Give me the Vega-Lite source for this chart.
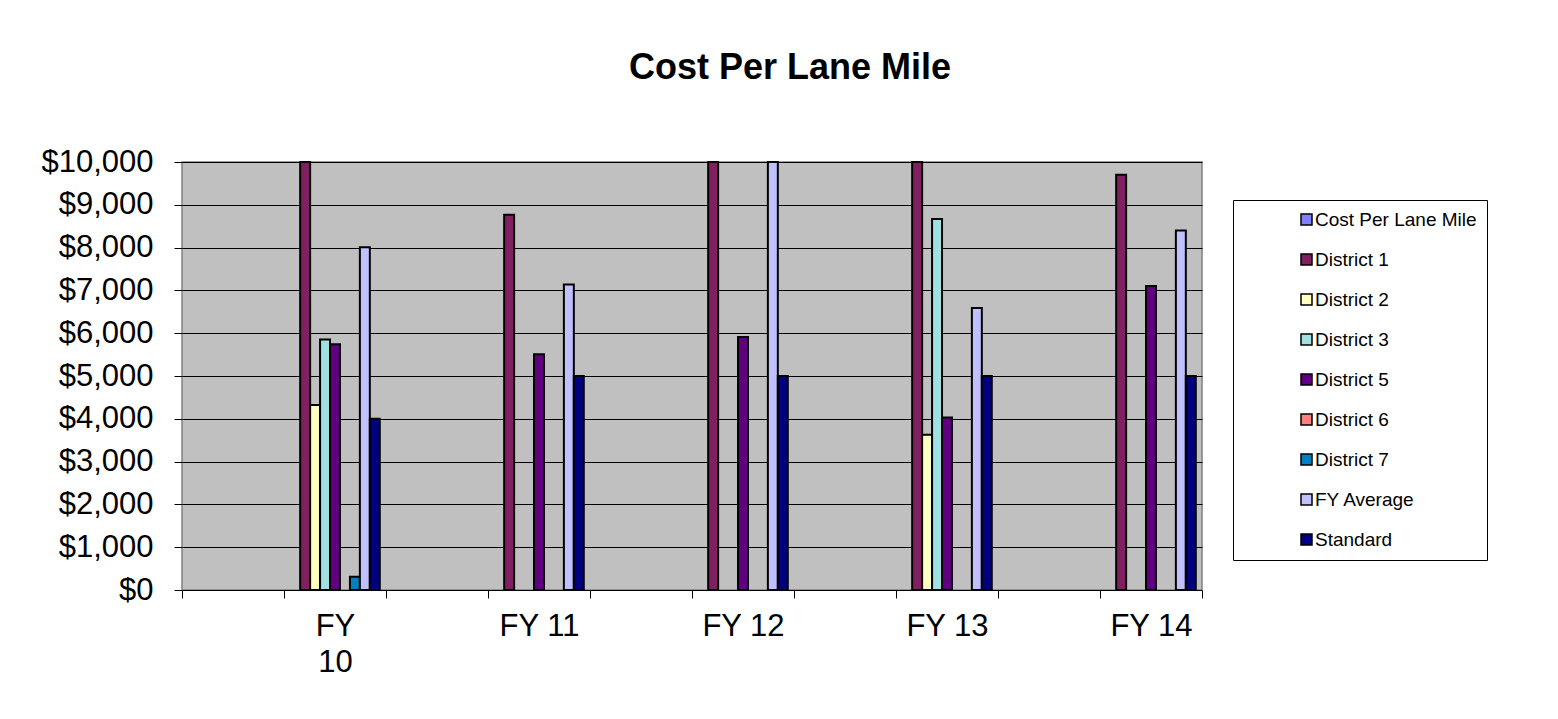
{
  "$schema": "https://vega.github.io/schema/vega-lite/v6.json",
  "width": 1020,
  "height": 428,
  "autosize": {"type": "none"},
  "padding": {"left": 182, "top": 162, "right": 356, "bottom": 129},
  "background": "white",
  "title": {
    "text": "Cost Per Lane Mile",
    "font": "Liberation Sans",
    "fontSize": 36,
    "fontWeight": "bold",
    "color": "black",
    "anchor": "middle",
    "dx": 98,
    "offset": 59
  },
  "data": {
    "values": [
      {"year": "FY 10", "series": "District 1", "cost": 10000},
      {"year": "FY 10", "series": "District 2", "cost": 4320},
      {"year": "FY 10", "series": "District 3", "cost": 5850},
      {"year": "FY 10", "series": "District 5", "cost": 5740},
      {"year": "FY 10", "series": "District 7", "cost": 310},
      {"year": "FY 10", "series": "FY Average", "cost": 8010},
      {"year": "FY 10", "series": "Standard", "cost": 4000},
      {"year": "FY 11", "series": "District 1", "cost": 8770},
      {"year": "FY 11", "series": "District 5", "cost": 5510},
      {"year": "FY 11", "series": "FY Average", "cost": 7140},
      {"year": "FY 11", "series": "Standard", "cost": 5000},
      {"year": "FY 12", "series": "District 1", "cost": 10000},
      {"year": "FY 12", "series": "District 5", "cost": 5910},
      {"year": "FY 12", "series": "FY Average", "cost": 10000},
      {"year": "FY 12", "series": "Standard", "cost": 5000},
      {"year": "FY 13", "series": "District 1", "cost": 10000},
      {"year": "FY 13", "series": "District 2", "cost": 3630},
      {"year": "FY 13", "series": "District 3", "cost": 8670},
      {"year": "FY 13", "series": "District 5", "cost": 4030},
      {"year": "FY 13", "series": "FY Average", "cost": 6590},
      {"year": "FY 13", "series": "Standard", "cost": 5000},
      {"year": "FY 14", "series": "District 1", "cost": 9700},
      {"year": "FY 14", "series": "District 5", "cost": 7100},
      {"year": "FY 14", "series": "FY Average", "cost": 8400},
      {"year": "FY 14", "series": "Standard", "cost": 5000}
    ]
  },
  "mark": {"type": "bar", "stroke": "black", "strokeWidth": 2},
  "encoding": {
    "x": {
      "field": "year",
      "type": "nominal",
      "sort": null,
      "scale": {
        "domain": ["b1", "FY 10", "b2", "FY 11", "b3", "FY 12", "b4", "FY 13", "b5", "FY 14"],
        "paddingInner": 0,
        "paddingOuter": 0
      },
      "axis": {
        "title": null,
        "tickBand": "extent",
        "labelExpr": "isString(datum.value) && test(/^FY/, datum.value) ? (datum.value == 'FY 10' ? split(datum.value, ' ') : datum.value) : ''",
        "labelFont": "Liberation Sans",
        "labelFontSize": 31,
        "labelColor": "black",
        "labelAngle": 0,
        "labelLineHeight": 36,
        "labelOverlap": false,
        "tickSize": 8,
        "tickColor": "black",
        "labelPadding": 13,
        "domain": false,
        "grid": false
      }
    },
    "xOffset": {
      "field": "series",
      "type": "nominal",
      "scale": {
        "domain": ["Cost Per Lane Mile", "District 1", "District 2", "District 3", "District 5", "District 6", "District 7", "FY Average", "Standard"],
        "paddingInner": 0,
        "paddingOuter": 0.625
      }
    },
    "y": {
      "field": "cost",
      "type": "quantitative",
      "scale": {"domain": [0, 10000], "nice": false},
      "axis": {
        "title": null,
        "values": [0, 1000, 2000, 3000, 4000, 5000, 6000, 7000, 8000, 9000, 10000],
        "format": "$,.0f",
        "labelFont": "Liberation Sans",
        "labelFontSize": 31,
        "labelColor": "black",
        "tickSize": 8,
        "tickColor": "black",
        "labelPadding": 21,
        "domain": false,
        "grid": true,
        "gridColor": "black"
      }
    },
    "color": {
      "field": "series",
      "type": "nominal",
      "scale": {
        "domain": ["Cost Per Lane Mile", "District 1", "District 2", "District 3", "District 5", "District 6", "District 7", "FY Average", "Standard"],
        "range": ["#8080FF", "#802060", "#FFFFC0", "#A0E0E0", "#600080", "#FF8080", "#0080C0", "#C0C0FF", "#000080"]
      },
      "legend": {
        "title": null,
        "orient": "none",
        "legendX": 1051,
        "legendY": 38,
        "direction": "vertical",
        "symbolType": "square",
        "symbolSize": 121,
        "symbolStrokeColor": "black",
        "symbolStrokeWidth": 1.5,
        "symbolOffset": 54,
        "labelOffset": -1,
        "labelFont": "Liberation Sans",
        "labelFontSize": 19,
        "labelColor": "black",
        "labelLimit": 600,
        "labelExpr": "datum.label + '\u00a0\u00a0\u00a0\u00a0\u00a0\u00a0\u00a0\u00a0\u00a0\u00a0\u00a0'",
        "rowPadding": 20,
        "padding": 10,
        "strokeColor": "black",
        "fillColor": "white"
      }
    }
  },
  "config": {
    "view": {"stroke": "#808080", "strokeWidth": 1.5, "fill": "#C0C0C0"},
    "font": "Liberation Sans"
  }
}
